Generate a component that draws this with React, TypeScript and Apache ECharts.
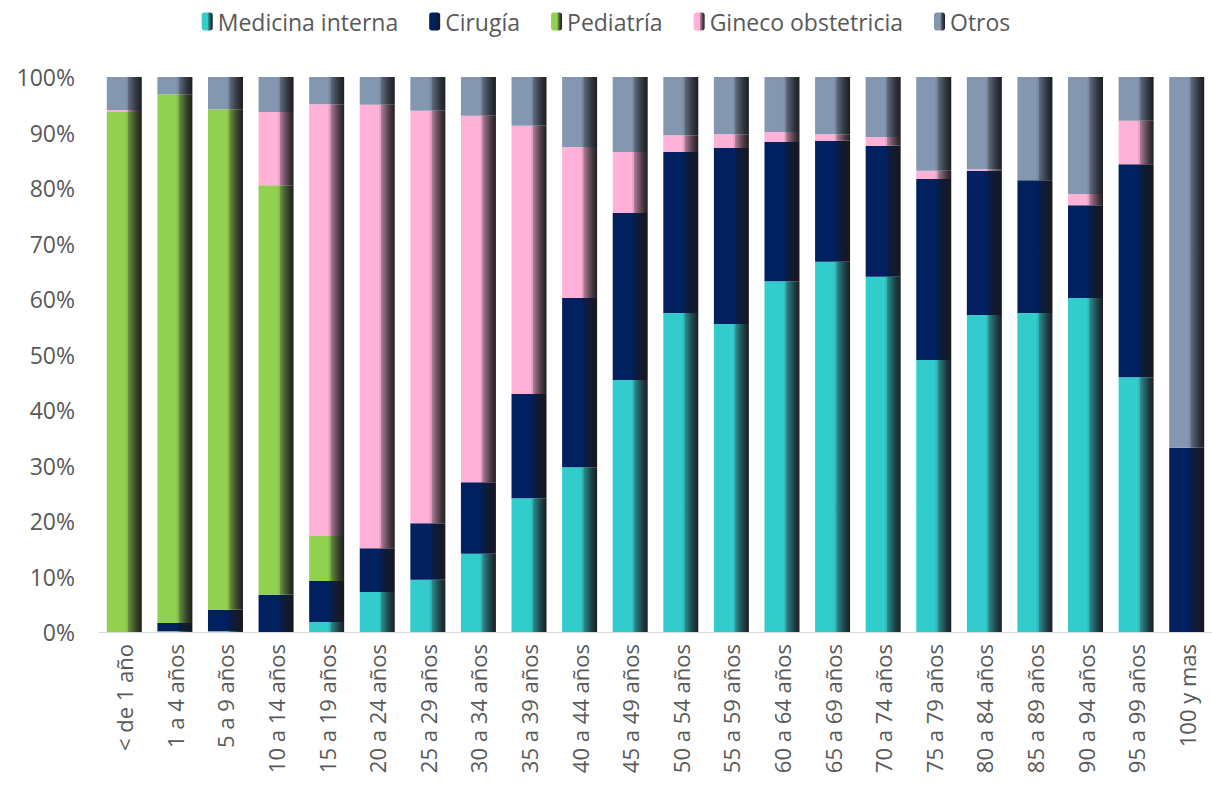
import React, { useEffect, useRef } from "react";
import * as echarts from "echarts";

const categories = [
  "< de 1 año", "1 a 4 años", "5 a 9 años", "10 a 14 años", "15 a 19 años",
  "20 a 24 años", "25 a 29 años", "30 a 34 años", "35 a 39 años", "40 a 44 años",
  "45 a 49 años", "50 a 54 años", "55 a 59 años", "60 a 64 años", "65 a 69 años",
  "70 a 74 años", "75 a 79 años", "80 a 84 años", "85 a 89 años", "90 a 94 años",
  "95 a 99 años", "100 y mas",
];

const medicinaInterna = [0, 0.2, 0.2, 0, 1.8, 7.2, 9.4, 14.1, 24.1, 29.7, 45.4, 57.5, 55.5, 63.2, 66.7, 64.0, 49.0, 57.1, 57.5, 60.2, 45.9, 0];
const cirugia = [0, 1.4, 3.8, 6.7, 7.4, 7.9, 10.2, 12.9, 18.8, 30.5, 30.1, 29.0, 31.7, 25.1, 21.8, 23.6, 32.6, 26.0, 23.9, 16.7, 38.4, 33.2];
const pediatria = [93.7, 95.3, 90.2, 73.8, 8.1, 0, 0, 0, 0, 0, 0, 0, 0, 0, 0, 0, 0, 0, 0, 0, 0, 0];
const ginecoObstetricia = [0.35, 0, 0, 13.2, 77.8, 79.9, 74.3, 66.0, 48.3, 27.2, 11.0, 3.0, 2.5, 1.8, 1.2, 1.6, 1.5, 0.3, 0, 2.0, 7.8, 0];
const otros = [5.95, 3.1, 5.8, 6.3, 4.9, 5.0, 6.1, 7.0, 8.8, 12.6, 13.5, 10.5, 10.3, 9.9, 10.3, 10.8, 16.9, 16.6, 18.6, 21.1, 7.9, 66.8];

const yTicks = [0, 10, 20, 30, 40, 50, 60, 70, 80, 90, 100];

const seriesDefs = [
  { name: "Medicina interna", data: medicinaInterna, color: "#33CCCC" },
  { name: "Cirugía", data: cirugia, color: "#002060" },
  { name: "Pediatría", data: pediatria, color: "#92D050" },
  { name: "Gineco obstetricia", data: ginecoObstetricia, color: "#FFB1D8" },
  { name: "Otros", data: otros, color: "#8497B0" },
];

function hexToRgb(h: string) {
  const v = parseInt(h.slice(1), 16);
  return [(v >> 16) & 255, (v >> 8) & 255, v & 255];
}
function shade(h: string, t: number) {
  const [r, g, b] = hexToRgb(h);
  const dr = 24, dg = 24, db = 28;
  const m = (a: number, d: number) => Math.round(a + (d - a) * t);
  return `rgb(${m(r, dr)},${m(g, dg)},${m(b, db)})`;
}
function grad(base: string) {
  return new echarts.graphic.LinearGradient(0, 0, 1, 0, [
    { offset: 0, color: base },
    { offset: 0.54, color: base },
    { offset: 0.55, color: shade(base, 0.06) },
    { offset: 0.6, color: shade(base, 0.12) },
    { offset: 0.62, color: shade(base, 0.35) },
    { offset: 0.75, color: shade(base, 0.6) },
    { offset: 0.88, color: shade(base, 0.82) },
    { offset: 1, color: shade(base, 0.95) },
  ]);
}

const FONT = "'Open Sans', sans-serif";

export default function App() {
  const ref = useRef<HTMLDivElement>(null);
  useEffect(() => {
    if (!ref.current) return;
    const chart = echarts.init(ref.current, undefined, { renderer: "svg" });
    chart.setOption({
      animation: false,
      backgroundColor: "#ffffff",
      textStyle: { fontFamily: FONT },
      legend: {
        top: 5,
        left: "center",
        itemWidth: 11,
        itemHeight: 18,
        itemGap: 31,
        textStyle: { fontSize: 23, color: "#595959", fontFamily: FONT },
        data: seriesDefs.map((s) => s.name),
      },
      grid: { left: 99, top: 77, width: 1122, height: 555, containLabel: false },
      xAxis: {
        type: "category",
        data: categories,
        axisLine: { show: true, lineStyle: { color: "#D9D9D9", width: 1 } },
        axisTick: { show: false },
        axisLabel: {
          rotate: 90,
          interval: 0,
          fontSize: 22,
          color: "#595959",
          margin: 12,
          fontFamily: FONT,
        },
      },
      yAxis: {
        type: "value",
        min: 0,
        max: 100,
        interval: 10,
        splitLine: { show: false },
        axisLine: { show: false },
        axisTick: { show: false },
        axisLabel: {
          formatter: (v: number) => (yTicks.includes(v) ? v + "%" : ""),
          fontSize: 23,
          color: "#595959",
          margin: 24,
          fontFamily: FONT,
        },
      },
      series: seriesDefs.map((s) => ({
        name: s.name,
        type: "bar",
        stack: "total",
        barWidth: 35,
        data: s.data,
        itemStyle: { color: grad(s.color) },
        emphasis: { disabled: true },
      })),
    });
    return () => chart.dispose();
  }, []);
  return (
    <div
      ref={ref}
      style={{ position: "absolute", left: 0, top: 0, width: 1212, height: 785 }}
    />
  );
}
